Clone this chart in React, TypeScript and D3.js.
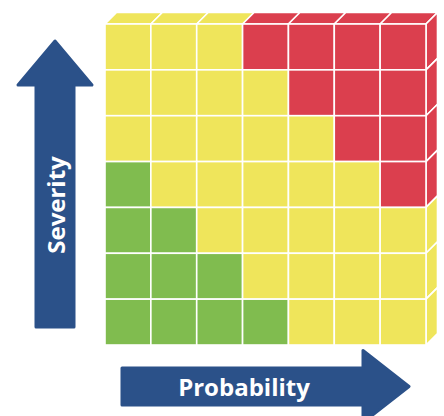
import React from "react";
import * as d3 from "d3";

const probabilityLevels = [1, 2, 3, 4, 5, 6, 7];
const severityLevels = [7, 6, 5, 4, 3, 2, 1];
// risk level per severity row (top = highest severity), per probability column
const riskRow7 = ["M", "M", "M", "H", "H", "H", "H"];
const riskRow6 = ["M", "M", "M", "M", "H", "H", "H"];
const riskRow5 = ["M", "M", "M", "M", "M", "H", "H"];
const riskRow4 = ["L", "M", "M", "M", "M", "M", "H"];
const riskRow3 = ["L", "L", "M", "M", "M", "M", "M"];
const riskRow2 = ["L", "L", "L", "M", "M", "M", "M"];
const riskRow1 = ["L", "L", "L", "L", "M", "M", "M"];
const riskRows = [riskRow7, riskRow6, riskRow5, riskRow4, riskRow3, riskRow2, riskRow1];
const riskKeys = ["L", "M", "H"];
const riskColors = ["#80bc4f", "#efe55b", "#db3f4e"];
const axisLabels = ["Severity", "Probability"];

export default function App() {
  const W = 444, H = 416;
  const x = d3.scaleBand<number>().domain(probabilityLevels).range([105, 426]).padding(0);
  const y = d3.scaleBand<number>().domain(severityLevels).range([24, 345]).padding(0);
  const color = d3.scaleOrdinal<string, string>().domain(riskKeys).range(riskColors);
  const dx = 11.5, dy = -11.5;
  const bw = x.bandwidth(), bh = y.bandwidth();
  const x1 = x.range()[1], y0 = y.range()[0];

  const cells: React.ReactNode[] = [];
  riskRows.forEach((row, ri) => {
    row.forEach((v, ci) => {
      cells.push(
        <rect key={`c${ri}-${ci}`} x={x(probabilityLevels[ci])} y={y(severityLevels[ri])} width={bw} height={bh}
          fill={color(v)} stroke="#fff" strokeWidth={1.6} />
      );
    });
  });
  // top faces
  const tops = riskRows[0].map((v, ci) => {
    const xa = x(probabilityLevels[ci])!;
    const pts = [[xa, y0], [xa + dx, y0 + dy], [xa + bw + dx, y0 + dy], [xa + bw, y0]];
    return <polygon key={`t${ci}`} points={pts.map(p => p.join(",")).join(" ")} fill={color(v)} stroke="#fff" strokeWidth={1.6} strokeLinejoin="round" />;
  });
  // side faces
  const sides = riskRows.map((row, ri) => {
    const ya = y(severityLevels[ri])!;
    const v = row[row.length - 1];
    const pts = [[x1, ya], [x1 + dx, ya + dy], [x1 + dx, ya + bh + dy], [x1, ya + bh]];
    return <polygon key={`s${ri}`} points={pts.map(p => p.join(",")).join(" ")} fill={color(v)} stroke="#fff" strokeWidth={1.6} strokeLinejoin="round" />;
  });

  const blue = "#2b5189";
  // vertical arrow
  const vcx = 55, vTip = 41, vHeadBase = 85, vBottom = 327, vShaftHalf = 19, vHeadHalf = 37;
  const vArrow = d3.path();
  vArrow.moveTo(vcx, vTip);
  vArrow.lineTo(vcx + vHeadHalf, vHeadBase);
  vArrow.lineTo(vcx + vShaftHalf, vHeadBase);
  vArrow.lineTo(vcx + vShaftHalf, vBottom);
  vArrow.lineTo(vcx - vShaftHalf, vBottom);
  vArrow.lineTo(vcx - vShaftHalf, vHeadBase);
  vArrow.lineTo(vcx - vHeadHalf, vHeadBase);
  vArrow.closePath();
  // horizontal arrow
  const hcy = 386.5, hLeft = 122, hHeadBase = 363, hTip = 409, hShaftHalf = 18.5, hHeadHalf = 36;
  const hArrow = d3.path();
  hArrow.moveTo(hTip, hcy);
  hArrow.lineTo(hHeadBase, hcy - hHeadHalf);
  hArrow.lineTo(hHeadBase, hcy - hShaftHalf);
  hArrow.lineTo(hLeft, hcy - hShaftHalf);
  hArrow.lineTo(hLeft, hcy + hShaftHalf);
  hArrow.lineTo(hHeadBase, hcy + hShaftHalf);
  hArrow.lineTo(hHeadBase, hcy + hHeadHalf);
  hArrow.closePath();

  return (
    <svg width={W} height={H} style={{ position: "absolute", left: 0, top: 0 }}>
      <rect width={W} height={H} fill="#fff" />
      {tops}
      {sides}
      {cells}
      <path d={vArrow.toString()} fill={blue} stroke={blue} strokeWidth={3} strokeLinejoin="round" />
      <path d={hArrow.toString()} fill={blue} stroke={blue} strokeWidth={3} strokeLinejoin="round" />
      <text x={vcx} y={205} transform={`rotate(-90, ${vcx}, 205)`} textAnchor="middle" dominantBaseline="central"
        fill="#fff" fontFamily="'Open Sans', sans-serif" fontWeight="bold" fontSize={24}>{axisLabels[0]}</text>
      <text x={244} y={hcy} textAnchor="middle" dominantBaseline="central"
        fill="#fff" fontFamily="'Open Sans', sans-serif" fontWeight="bold" fontSize={24}>{axisLabels[1]}</text>
    </svg>
  );
}
